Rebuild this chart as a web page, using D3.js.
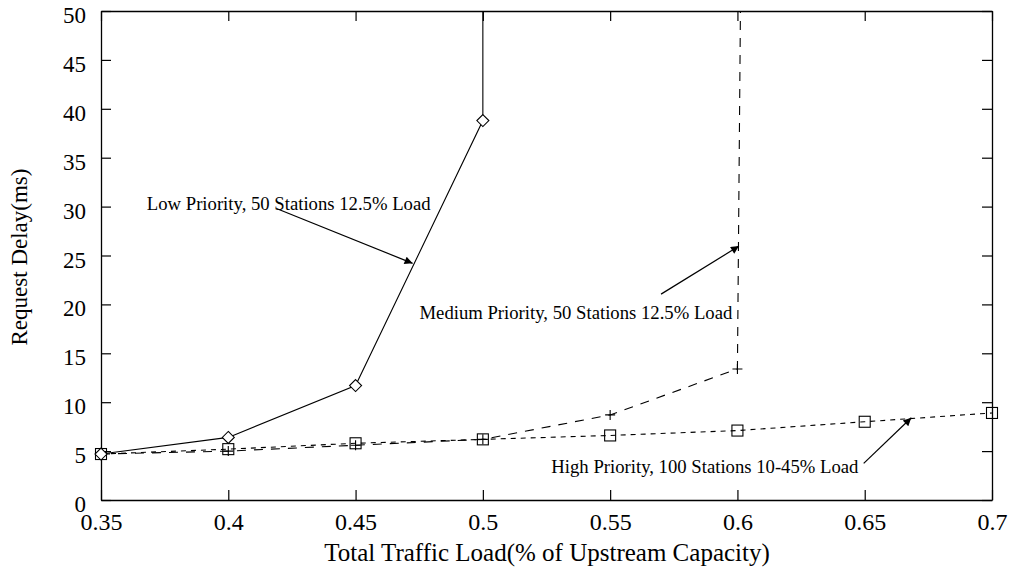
<!DOCTYPE html>
<html>
<head>
<meta charset="utf-8">
<script src="https://cdn.jsdelivr.net/npm/d3@7"></script>
<style>
  body { margin: 0; background: #fff; }
  text { font-family: "Liberation Serif", "DejaVu Serif", serif; fill: #000; }
</style>
</head>
<body>
<div class="container"></div>
<script>
// data
const xTicks = [0.35, 0.4, 0.45, 0.5, 0.55, 0.6, 0.65, 0.7];
const yTicks = [0, 5, 10, 15, 20, 25, 30, 35, 40, 45, 50];

// last point of low / medium runs off the top of the plot
const lowLoad = [0.35, 0.4, 0.45, 0.5, 0.5];
const lowDelay = [4.7, 6.4, 11.7, 38.8, 60];

const medLoad = [0.35, 0.4, 0.45, 0.5, 0.55, 0.6, 0.6015];
const medDelay = [4.7, 5.0, 5.6, 6.2, 8.7, 13.4, 60];

const highLoad = [0.35, 0.4, 0.45, 0.5, 0.55, 0.6, 0.65, 0.7];
const highDelay = [4.7, 5.2, 5.8, 6.2, 6.6, 7.1, 8.0, 8.9];

// annotations: text start and arrow from/to, in data units
const notes = [
  { label: "Low Priority, 50 Stations 12.5% Load", tx: 0.368, ty: 29.7, from: [0.4189, 29.8], to: [0.4724, 24.2] },
  { label: "Medium Priority, 50 Stations 12.5% Load", tx: 0.4751, ty: 18.55, from: [0.570, 21.05], to: [0.6006, 25.96] },
  { label: "High Priority, 100 Stations 10-45% Load", tx: 0.5269, ty: 2.73, from: [0.6496, 3.75], to: [0.6683, 8.41] }
];

const width = 1012;
const height = 572;
const margin = { top: 11, right: 20, bottom: 72, left: 101 };

const svg = d3.select(".container")
  .append("svg")
  .attr("width", width)
  .attr("height", height);

const x = d3.scaleLinear().domain([0.35, 0.7]).range([margin.left, width - margin.right]);
const y = d3.scaleLinear().domain([0, 50]).range([height - margin.bottom, margin.top]);

// arrow head
svg.append("defs").append("marker")
  .attr("id", "head")
  .attr("viewBox", "0 0 10 10")
  .attr("refX", 10).attr("refY", 5)
  .attr("markerWidth", 15).attr("markerHeight", 8)
  .attr("markerUnits", "userSpaceOnUse")
  .attr("orient", "auto")
  .append("path")
  .attr("d", "M0,0 L10,5 L0,10 z")
  .attr("fill", "#000");

svg.append("clipPath").attr("id", "plot")
  .append("rect")
  .attr("x", margin.left).attr("y", margin.top)
  .attr("width", width - margin.left - margin.right)
  .attr("height", height - margin.top - margin.bottom);

// axes, ticks inward on all four sides
const tickLen = 10;
const xAxis = svg.append("g")
  .attr("transform", `translate(0,${y(0)})`)
  .call(d3.axisBottom(x).tickValues(xTicks).tickSizeInner(-tickLen).tickSizeOuter(0)
    .tickFormat(d => d3.format("")(d)));
xAxis.selectAll(".tick text")
  .attr("y", 30).attr("dy", 0)
  .style("font-size", "24px");

svg.append("g")
  .attr("transform", `translate(0,${y(50)})`)
  .call(d3.axisTop(x).tickValues(xTicks).tickSizeInner(-tickLen).tickSizeOuter(0).tickFormat(""));

const yAxis = svg.append("g")
  .attr("transform", `translate(${x(0.35)},0)`)
  .call(d3.axisLeft(y).tickValues(yTicks).tickSizeInner(-tickLen).tickSizeOuter(0).tickPadding(15));
yAxis.selectAll(".tick text")
  .attr("dy", "0.5em")
  .style("font-size", "23px");

svg.append("g")
  .attr("transform", `translate(${x(0.7)},0)`)
  .call(d3.axisRight(y).tickValues(yTicks).tickSizeInner(-tickLen).tickSizeOuter(0).tickFormat(""));

svg.selectAll(".domain").attr("stroke", "#000").attr("stroke-width", 1.3);
svg.selectAll(".tick line").attr("stroke", "#000").attr("stroke-width", 1.2);
svg.selectAll(".tick text").attr("fill", "#000");

// axis titles
svg.append("text")
  .attr("x", 547)
  .attr("y", 561)
  .attr("text-anchor", "middle")
  .style("font-size", "25px")
  .text("Total Traffic Load(% of Upstream Capacity)");

svg.append("text")
  .attr("transform", `translate(27,257) rotate(-90)`)
  .attr("text-anchor", "middle")
  .style("font-size", "23px")
  .text("Request Delay(ms)");

// series lines
const line = d3.line().x(d => x(d[0])).y(d => y(d[1]));
const plot = svg.append("g").attr("clip-path", "url(#plot)");

function drawSeries(xs, ys, dash) {
  const pts = xs.map((v, i) => [v, ys[i]]);
  plot.append("path")
    .datum(pts)
    .attr("d", line)
    .attr("fill", "none")
    .attr("stroke", "#000")
    .attr("stroke-width", 1.1)
    .attr("stroke-dasharray", dash);
  return pts.filter(p => p[1] <= 50);
}

const highPts = drawSeries(highLoad, highDelay, "5,5");
const medPts = drawSeries(medLoad, medDelay, "9,8");
const lowPts = drawSeries(lowLoad, lowDelay, null);

// markers
svg.selectAll(".sq").data(highPts).enter().append("rect")
  .attr("x", d => x(d[0]) - 5.5).attr("y", d => y(d[1]) - 5.5)
  .attr("width", 11).attr("height", 11)
  .attr("fill", "none").attr("stroke", "#000").attr("stroke-width", 1.1);

svg.selectAll(".plus").data(medPts).enter().append("path")
  .attr("d", d => `M${x(d[0]) - 5},${y(d[1])}H${x(d[0]) + 5}M${x(d[0])},${y(d[1]) - 5}V${y(d[1]) + 5}`)
  .attr("stroke", "#000").attr("stroke-width", 1.1);

svg.selectAll(".dia").data(lowPts).enter().append("path")
  .attr("d", d => `M${x(d[0])},${y(d[1]) - 6}L${x(d[0]) + 6},${y(d[1])}L${x(d[0])},${y(d[1]) + 6}L${x(d[0]) - 6},${y(d[1])}Z`)
  .attr("fill", "#fff").attr("stroke", "#000").attr("stroke-width", 1.1);

// annotations
notes.forEach(n => {
  svg.append("text")
    .attr("x", x(n.tx)).attr("y", y(n.ty))
    .style("font-size", "18.7px")
    .text(n.label);
  svg.append("line")
    .attr("x1", x(n.from[0])).attr("y1", y(n.from[1]))
    .attr("x2", x(n.to[0])).attr("y2", y(n.to[1]))
    .attr("stroke", "#000").attr("stroke-width", 1.2)
    .attr("marker-end", "url(#head)");
});
</script>
</body>
</html>
